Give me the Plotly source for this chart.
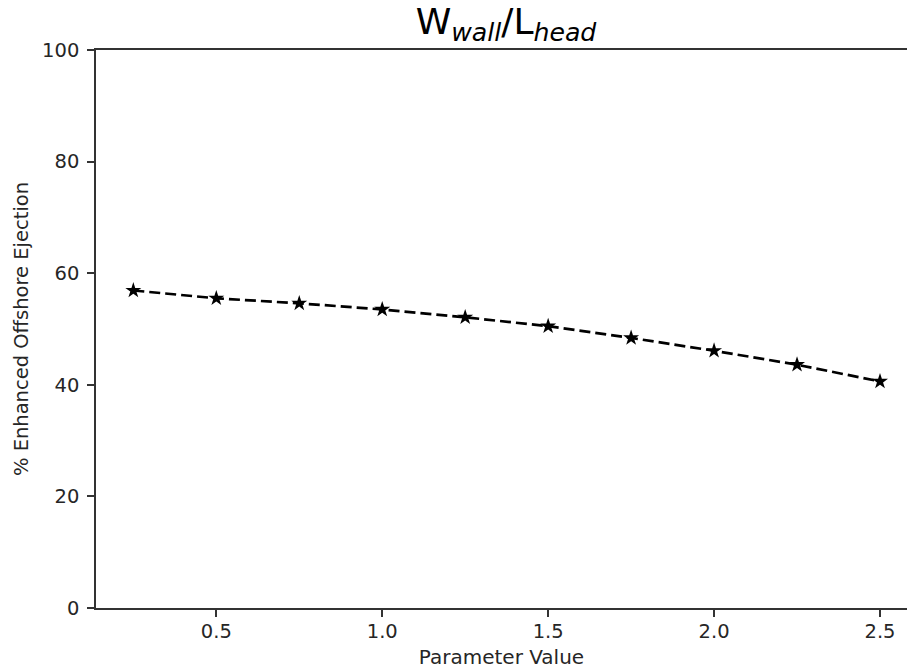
import plotly.graph_objects as go

param_values = [0.25, 0.5, 0.75, 1.0, 1.25, 1.5, 1.75, 2.0, 2.25, 2.5]
ejection_pct = [56.9, 55.5, 54.6, 53.5, 52.1, 50.5, 48.4, 46.1, 43.6, 40.6]
x_ticks = [0.5, 1.0, 1.5, 2.0, 2.5]
x_tick_labels = ["0.5", "1.0", "1.5", "2.0", "2.5"]
y_ticks = [0, 20, 40, 60, 80, 100]

FONT = "DejaVu Sans"

fig = go.Figure()
fig.add_trace(go.Scatter(
    x=param_values, y=ejection_pct, mode="lines+markers",
    line=dict(color="black", width=2.7, dash="11px,5px"),
    marker=dict(symbol="star", size=12, color="black"),
    showlegend=False,
))

fig.update_layout(
    width=907, height=672,
    margin=dict(l=96, r=0, t=50, b=64),
    paper_bgcolor="white", plot_bgcolor="white",
    font=dict(family=FONT, size=19.5, color="#262626"),
    title=dict(text="W<sub><i>wall</i></sub>/L<sub><i>head</i></sub>",
               font=dict(family=FONT, size=36, color="black"),
               xref="container", x=506/907, xanchor="center",
               yref="container", y=1 - 21/672, yanchor="middle"),
    xaxis=dict(range=[0.1375, 0.1375 + 811/331.85], tickvals=x_ticks, ticktext=x_tick_labels,
               showgrid=False, zeroline=False, showline=True, linecolor="#333", linewidth=1.6,
               mirror=True, ticks="outside", ticklen=7, tickwidth=1.6, tickcolor="#333",
               ticklabelstandoff=-2,
               title=dict(text="Parameter Value", standoff=8, font=dict(size=20))),
    yaxis=dict(range=[0, 100], tickvals=y_ticks, showgrid=False, zeroline=False,
               showline=True, linecolor="#333", linewidth=1.6, ticks="outside",
               ticklen=7, tickwidth=1.6, tickcolor="#333", ticklabelstandoff=4,
               title=dict(text="% Enhanced Offshore Ejection", standoff=8, font=dict(size=19.5))),
)

fig.write_html("out.html", config={"displayModeBar": False},
               post_script="document.body.style.margin='0';document.body.style.overflow='hidden';")
